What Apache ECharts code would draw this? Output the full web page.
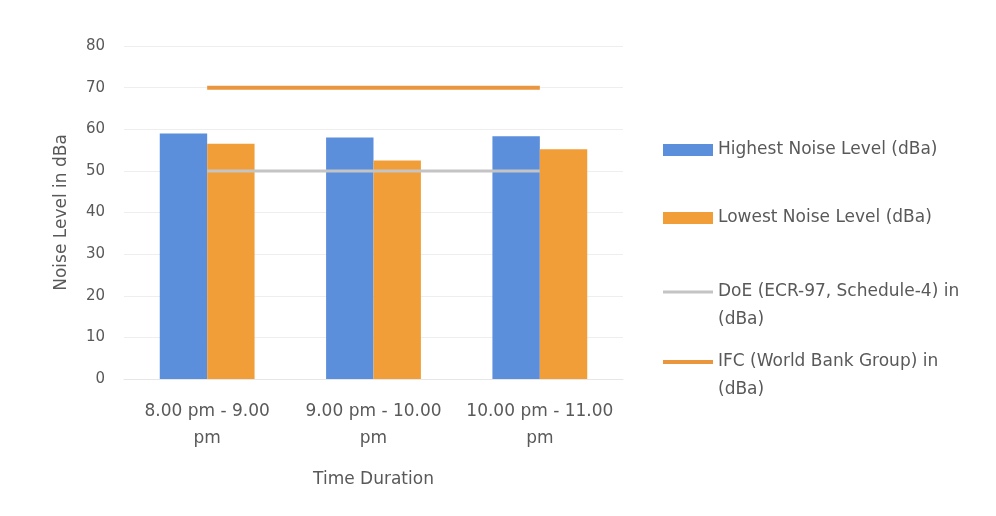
<!DOCTYPE html>
<html><head><meta charset="utf-8">
<script src="https://cdn.jsdelivr.net/npm/echarts@6/dist/echarts.min.js"></script>
<style>html,body{margin:0;padding:0;background:#fff}#c{width:996px;height:516px}</style>
</head><body><div id="c"></div>
<script>
const categories = ['8.00 pm - 9.00 pm', '9.00 pm - 10.00 pm', '10.00 pm - 11.00 pm'];
const highest = [59, 58, 58.3];
const lowest = [56.5, 52.5, 55.2];
const doe = [50, 50, 50];
const ifc = [70, 70, 70];
const seriesNames = ['Highest Noise Level (dBa)', 'Lowest Noise Level (dBa)', 'DoE (ECR-97, Schedule-4) in (dBa)', 'IFC (World Bank Group) in (dBa)'];
const legendWrapped = {
  'DoE (ECR-97, Schedule-4) in (dBa)': '\u00a0\nDoE (ECR-97, Schedule-4) in\n(dBa)',
  'IFC (World Bank Group) in (dBa)': '\u00a0\nIFC (World Bank Group) in\n(dBa)'
};
const xLabels = {
  '8.00 pm - 9.00 pm': '8.00 pm - 9.00\npm',
  '9.00 pm - 10.00 pm': '9.00 pm - 10.00\npm',
  '10.00 pm - 11.00 pm': '10.00 pm - 11.00\npm'
};
const font = 'DejaVu Sans';
const txt = '#595959';
const colors = ['#5B8EDB', '#F29E38', '#C4C4C4', '#EA963E'];
const lh = 28;
function mkLegend(i, top, iconH) {
  return {
    show: true, orient: 'vertical', left: 663, top: top, padding: 0,
    itemWidth: 50, itemHeight: iconH, itemGap: 0,
    textStyle: {color: txt, fontSize: 17, fontFamily: font, lineHeight: lh},
    formatter: n => legendWrapped[n] || n,
    data: [{name: seriesNames[i], icon: 'rect'}]
  };
}
const chart = echarts.init(document.getElementById('c'), null, {renderer: 'canvas'});
chart.setOption({
  animation: false,
  backgroundColor: '#fff',
  textStyle: {fontFamily: font},
  grid: {left: 124, right: 373, top: 46, bottom: 137},
  legend: [
    mkLegend(0, 150 - lh / 2, 12),
    mkLegend(1, 218 - lh / 2, 12),
    mkLegend(2, 292 - lh * 1.5, 3),
    mkLegend(3, 362 - lh * 1.5, 4)
  ],
  xAxis: {
    type: 'category', data: categories,
    name: 'Time Duration', nameLocation: 'middle', nameGap: 92,
    nameTextStyle: {color: txt, fontSize: 17, fontFamily: font},
    axisLine: {lineStyle: {color: '#e6e6e6'}},
    axisTick: {show: false},
    axisLabel: {color: txt, fontSize: 17, fontFamily: font, lineHeight: 27, margin: 19,
      formatter: v => xLabels[v] || v, interval: 0}
  },
  yAxis: {
    type: 'value', min: 0, max: 80, interval: 10,
    name: 'Noise Level in dBa', nameLocation: 'middle', nameGap: 54,
    nameTextStyle: {color: txt, fontSize: 17, fontFamily: font},
    axisLine: {show: false}, axisTick: {show: false},
    axisLabel: {color: txt, fontSize: 15, fontFamily: font, margin: 19},
    splitLine: {lineStyle: {color: '#eeeeee'}}
  },
  series: [
    {name: seriesNames[0], type: 'bar', data: highest, barGap: '0%', barCategoryGap: '43%',
      itemStyle: {color: colors[0]}},
    {name: seriesNames[1], type: 'bar', data: lowest,
      itemStyle: {color: colors[1]}},
    {name: seriesNames[2], type: 'line', data: doe, symbol: 'none', z: 5,
      lineStyle: {color: colors[2], width: 3}, itemStyle: {color: colors[2]}},
    {name: seriesNames[3], type: 'line', data: ifc, symbol: 'none', z: 5,
      lineStyle: {color: colors[3], width: 4}, itemStyle: {color: colors[3]}}
  ]
});
</script></body></html>
